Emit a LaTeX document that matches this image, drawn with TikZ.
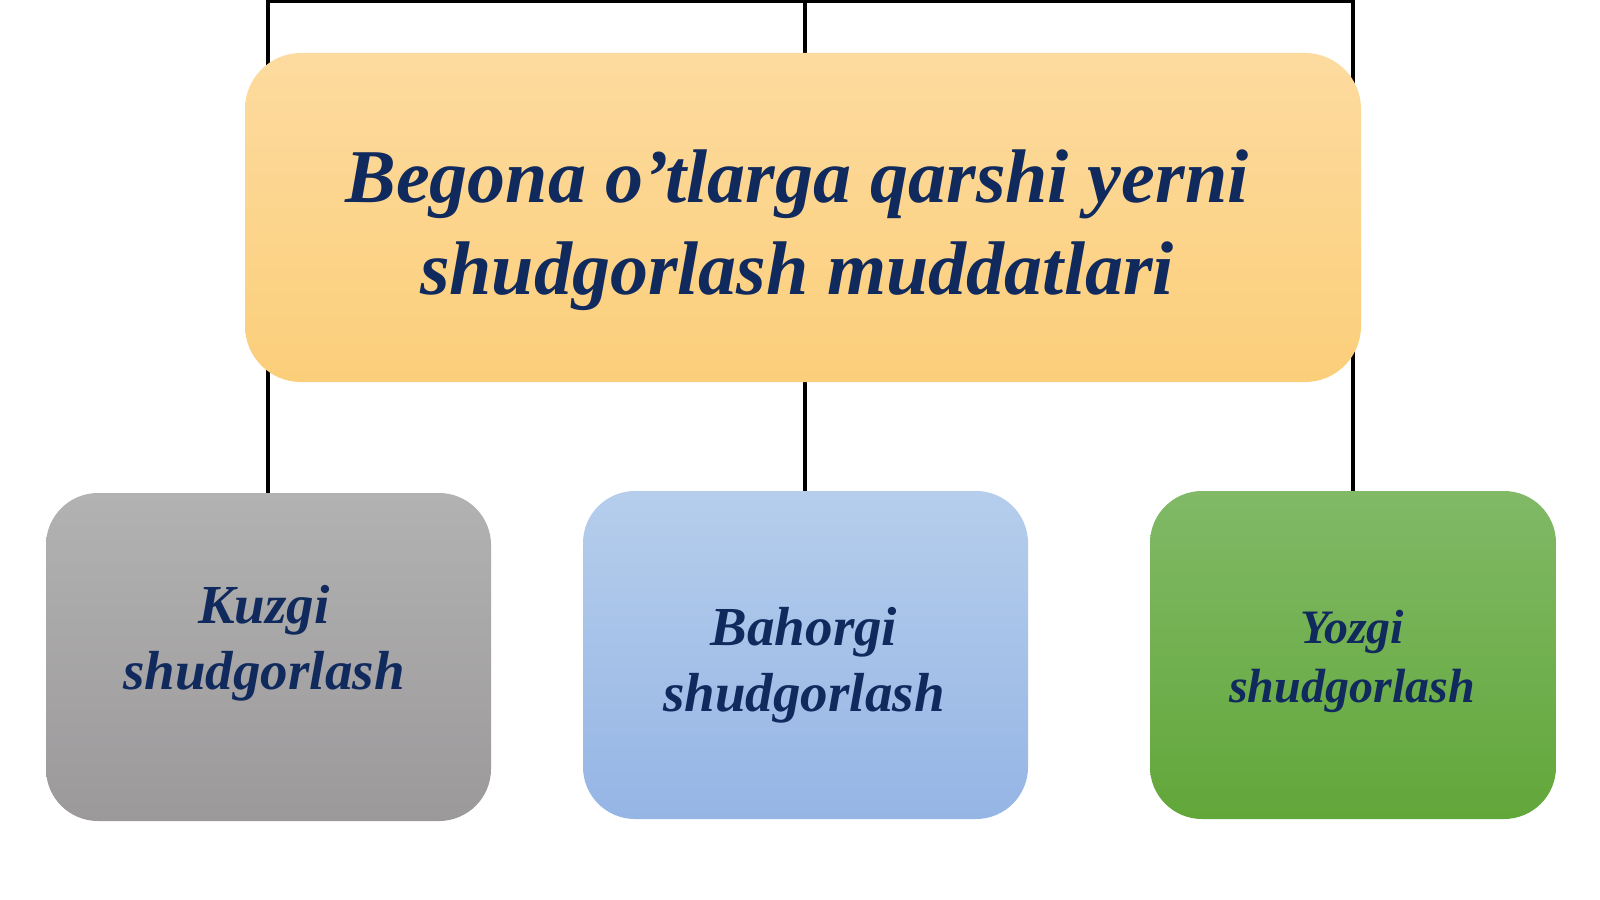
\documentclass[tikz,border=0pt]{standalone}
\usepackage{fontspec}
\setmainfont{Liberation Serif}
\pgfdeclarelayer{background}
\pgfsetlayers{background,main}
\definecolor{navy}{HTML}{112A5E}
\definecolor{orTop}{HTML}{FDDB9F}
\definecolor{orBot}{HTML}{FBCE7A}
\definecolor{grTop}{HTML}{B2B2B2}
\definecolor{grBot}{HTML}{9C999B}
\definecolor{blTop}{HTML}{B6CEEC}
\definecolor{blBot}{HTML}{95B5E5}
\definecolor{gnTop}{HTML}{81B966}
\definecolor{gnBot}{HTML}{62A73A}
\tikzset{
  box/.style={draw=none, rectangle, inner sep=0pt, rounded corners=52pt},
  label/.style={text=navy, align=center, inner sep=0pt, font=\bfseries\itshape},
  conn/.style={draw=black, line width=3.5pt, line join=miter}
}
\begin{document}
\begin{tikzpicture}[x=1pt,y=-1pt]
\useasboundingbox (0,0) rectangle (1600,899);
% boxes
\node[box, minimum width=1116pt, minimum height=329pt, top color=orTop, bottom color=orBot, rounded corners=56pt] (title) at (803,217.5) {};
\node[box, minimum width=445pt, minimum height=328pt, top color=grTop, bottom color=grBot] (kuzgi) at (268.5,657) {};
\node[box, minimum width=445pt, minimum height=328pt, top color=blTop, bottom color=blBot] (bahorgi) at (805.5,655) {};
\node[box, minimum width=406pt, minimum height=328pt, top color=gnTop, bottom color=gnBot] (yozgi) at (1353,655) {};
% texts
\node[label, font=\fontsize{76}{92}\selectfont\bfseries\itshape] (titletext) at (797,230) {Begona o’tlarga qarshi yerni\\shudgorlash muddatlari};
\node[label, font=\fontsize{55}{66}\selectfont\bfseries\itshape] (kuzgitext) at (264,643) {Kuzgi\\shudgorlash};
\node[label, font=\fontsize{55}{66}\selectfont\bfseries\itshape] (bahorgitext) at (804,665) {Bahorgi\\shudgorlash};
\node[label, font=\fontsize{48}{59}\selectfont\bfseries\itshape] (yozgitext) at (1352,661) {Yozgi\\shudgorlash};
% connectors behind
\coordinate (t1) at (268,1.75);
\coordinate (t2) at (805,1.75);
\coordinate (t3) at (1353,1.75);
\begin{pgfonlayer}{background}
\fill[white] (0,0) rectangle (1600,899);
\draw[conn] (t1 |- kuzgi.north) -- (t1) -- (t3) -- (t3 |- yozgi.north);
\draw[conn] (t2) -- (t2 |- bahorgi.north);
\end{pgfonlayer}
\end{tikzpicture}
\end{document}
